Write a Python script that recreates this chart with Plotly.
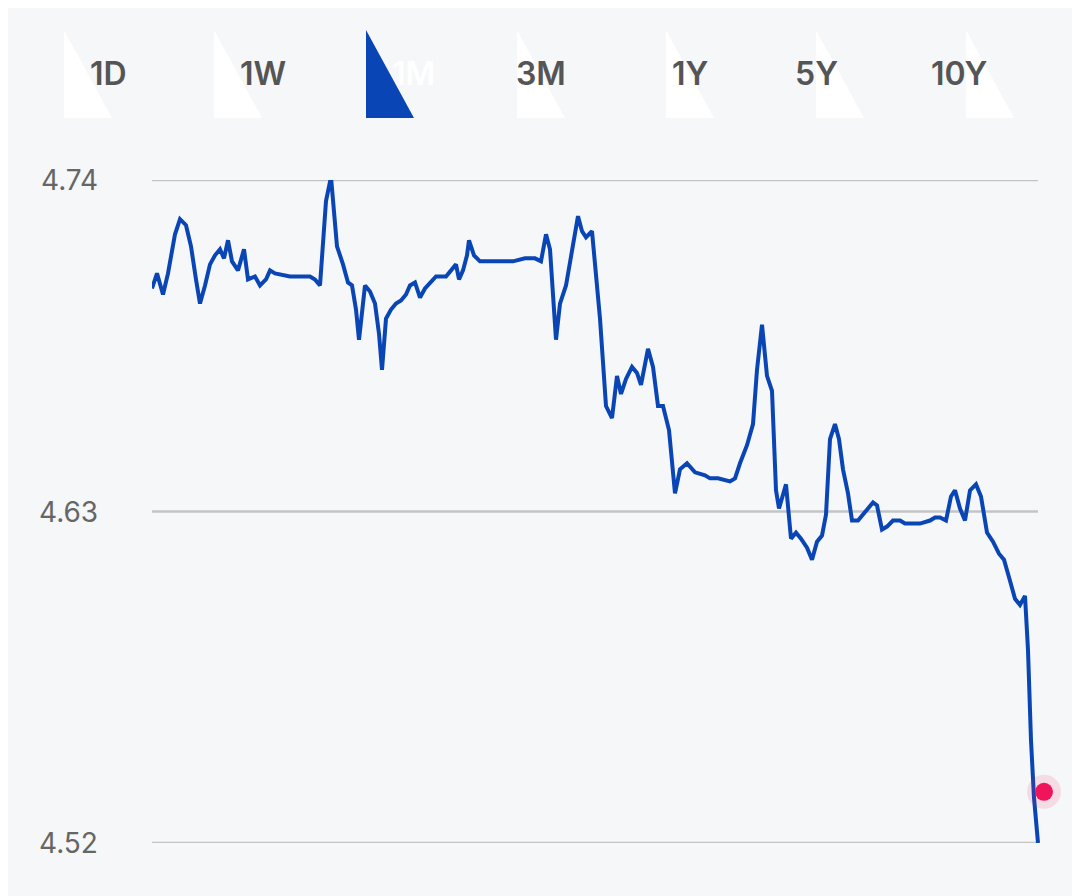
import plotly.graph_objects as go

# chart data (time step, yield %)
steps = [0, 5, 11, 16, 23, 28, 34, 39, 44, 48, 53, 58, 63, 68, 72, 76, 80, 86, 92, 96,
         103, 108, 114, 118, 123, 138, 158, 163, 168, 174, 179, 185, 191, 196, 200, 204, 207, 210, 213, 218,
         223, 227, 230, 234, 239, 244, 249, 254, 258, 263, 268, 273, 279, 284, 294, 299, 304, 307, 311, 315,
         317, 322, 328, 361, 373, 383, 389, 394, 398, 404, 408, 414, 419, 423, 426, 430, 434, 440, 448, 454,
         460, 465, 469, 474, 480, 485, 489, 496, 501, 506, 511, 517, 523, 528, 535, 543, 553, 558, 566, 578,
         583, 588, 595, 601, 605, 610, 615, 620, 624, 627, 634, 639, 644, 649, 655, 660, 665, 670, 674, 678,
         683, 687, 691, 696, 700, 706, 711, 716, 721, 725, 730, 735, 741, 748, 753, 768, 778, 783, 788, 794,
         799, 803, 808, 813, 818, 824, 829, 835, 841, 847, 852, 858, 863, 868, 873, 876, 879, 882, 886]
yields = [4.704, 4.709, 4.702, 4.709, 4.722, 4.727, 4.725, 4.718, 4.707, 4.699, 4.705, 4.712, 4.715, 4.717, 4.714, 4.720, 4.713, 4.710, 4.717, 4.707,
          4.708, 4.705, 4.707, 4.710, 4.709, 4.708, 4.708, 4.707, 4.705, 4.733, 4.741, 4.718, 4.712, 4.706, 4.705, 4.697, 4.687, 4.697, 4.705, 4.703,
          4.699, 4.689, 4.677, 4.694, 4.697, 4.699, 4.700, 4.702, 4.705, 4.706, 4.701, 4.704, 4.706, 4.708, 4.708, 4.710, 4.712, 4.707, 4.710, 4.715,
          4.720, 4.715, 4.713, 4.713, 4.714, 4.714, 4.713, 4.722, 4.717, 4.687, 4.699, 4.705, 4.714, 4.722, 4.728, 4.723, 4.721, 4.723, 4.694, 4.665,
          4.661, 4.675, 4.669, 4.674, 4.678, 4.676, 4.672, 4.684, 4.678, 4.665, 4.665, 4.657, 4.636, 4.644, 4.646, 4.643, 4.642, 4.641, 4.641, 4.640,
          4.641, 4.646, 4.652, 4.659, 4.677, 4.692, 4.675, 4.670, 4.637, 4.631, 4.639, 4.621, 4.623, 4.621, 4.618, 4.614, 4.620, 4.622, 4.629, 4.654,
          4.659, 4.654, 4.644, 4.636, 4.627, 4.627, 4.629, 4.631, 4.633, 4.632, 4.624, 4.625, 4.627, 4.627, 4.626, 4.626, 4.627, 4.628, 4.628, 4.627,
          4.635, 4.637, 4.631, 4.627, 4.637, 4.639, 4.635, 4.623, 4.620, 4.616, 4.614, 4.607, 4.601, 4.599, 4.602, 4.584, 4.554, 4.535, 4.520]
assert len(steps) == len(yields)

last_step = 892
last_yield = 4.537

ticks = [4.52, 4.63, 4.74]
tick_labels = ["4.52", "4.63", "4.74"]

periods = ["1D", "1W", "1M", "3M", "1Y", "5Y", "10Y"]
active = "1M"

BLUE = "#0a45b5"
BG = "#f5f7f9"
OFF = 8  # page body margin shifts the figure

# plot area in figure pixels
L, R = 152 - OFF, 1052 - OFF
T, B = 180 - OFF, 843 - OFF

def px(x):
    return (x - OFF - L) / (R - L)

def py(y):
    return (B - (y - OFF)) / (B - T)

fig = go.Figure()
fig.add_trace(go.Scatter(x=steps, y=yields, mode="lines",
                         line=dict(color=BLUE, width=4), hoverinfo="skip"))
fig.add_trace(go.Scatter(x=[last_step], y=[last_yield], mode="markers",
                         marker=dict(size=34, color="rgba(240,30,90,0.13)"), cliponaxis=False))
fig.add_trace(go.Scatter(x=[last_step], y=[last_yield], mode="markers",
                         marker=dict(size=18, color="#f0145a"), cliponaxis=False))

shapes = []
annotations = []

for t in ticks:
    shapes.append(dict(type="line", xref="x", yref="y", x0=0, x1=886, y0=t, y1=t,
                       line=dict(color="#c4c4c4", width=2.5), layer="below"))

pill = "M -24,-44 L 24,-44 A 44 44 0 0 1 24,44 L -24,44 A 44 44 0 0 1 -24,-44 Z"
centers = [88, 238, 390, 541, 690, 840, 990]
for p, cx in zip(periods, centers):
    on = p == active
    shapes.append(dict(type="path", xref="paper", yref="paper",
                       xsizemode="pixel", ysizemode="pixel",
                       xanchor=px(cx), yanchor=py(74), path=pill,
                       fillcolor=BLUE if on else "white", line=dict(width=0)))
    annotations.append(dict(x=px(cx), y=py(74), xref="paper", yref="paper", text=p,
                            showarrow=False, yanchor="middle",
                            font=dict(size=32, color="white" if on else "#555555",
                                      family="Inter", weight=600)))

for t, lab in zip(ticks, tick_labels):
    annotations.append(dict(x=px(100), y=t, xref="paper", yref="y", text=lab,
                            showarrow=False, xanchor="right",
                            font=dict(size=28, color="#666666", family="Inter")))

fig.update_layout(
    width=1080, height=896,
    paper_bgcolor=BG, plot_bgcolor=BG,
    margin=dict(l=L, r=1080 - R, t=T, b=896 - B),
    showlegend=False,
    shapes=shapes, annotations=annotations,
    xaxis=dict(range=[0, 900], visible=False, fixedrange=True),
    yaxis=dict(range=[4.52, 4.74], visible=False, showgrid=False, fixedrange=True),
)

fig.write_html("out.html")
